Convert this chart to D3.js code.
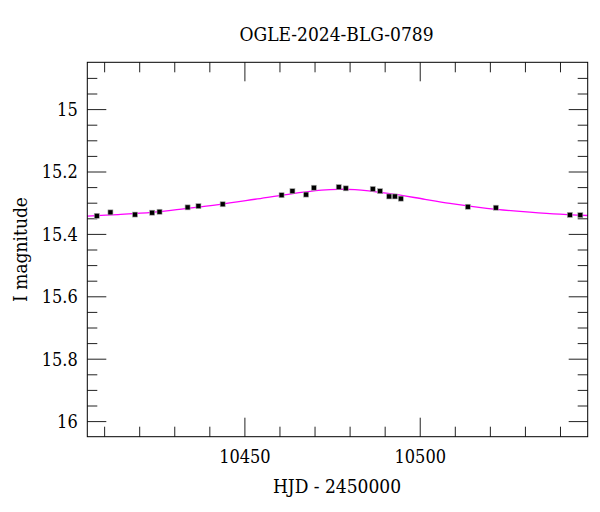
<!DOCTYPE html>
<html>
<head>
<meta charset="utf-8">
<script src="https://cdn.jsdelivr.net/npm/d3@7"></script>
<style>
  html, body { margin: 0; padding: 0; background: #fff; }
  svg { display: block; }
  text { font-family: "DejaVu Serif Condensed", "DejaVu Serif", serif; font-stretch: condensed; fill: #000; }
</style>
</head>
<body>
<svg id="chart" width="600" height="512"></svg>
<script>
// observed photometry (HJD - 2450000, I mag, error)
const hjd = [10407.9, 10411.8, 10418.8, 10423.7, 10425.8, 10433.8, 10436.9, 10443.8,
  10460.6, 10463.7, 10467.6, 10469.8, 10476.9, 10478.9, 10486.6, 10488.7,
  10491.3, 10492.9, 10494.6, 10513.7, 10521.7, 10542.8, 10545.8];
const imag = [15.342, 15.331, 15.338, 15.332, 15.329, 15.315, 15.311, 15.305,
  15.276, 15.263, 15.274, 15.252, 15.250, 15.254, 15.256, 15.263,
  15.280, 15.280, 15.287, 15.313, 15.316, 15.339, 15.340];
const ierr = [0.006, 0.006, 0.006, 0.006, 0.006, 0.006, 0.006, 0.006,
  0.006, 0.006, 0.006, 0.006, 0.006, 0.006, 0.006, 0.006,
  0.006, 0.006, 0.006, 0.006, 0.006, 0.006, 0.006];

// model curve
const modelHjd = [10405.2, 10414.0, 10423.6, 10433.1, 10442.6, 10453.0, 10462.5, 10472.0,
  10476.8, 10481.5, 10491.0, 10501.5, 10509.6, 10519.1, 10528.6, 10538.1, 10547.9];
const modelMag = [15.343, 15.338, 15.331, 15.319, 15.306, 15.289, 15.273, 15.260,
  15.257, 15.258, 15.270, 15.289, 15.304, 15.318, 15.328, 15.336, 15.341];

const xMajor = [10450, 10500];
const xMinor = [10410, 10420, 10430, 10440, 10460, 10470, 10480, 10490, 10510, 10520, 10530, 10540];
const yMajor = [15, 15.2, 15.4, 15.6, 15.8, 16];
const yMinor = [14.9, 14.95, 15.05, 15.1, 15.15, 15.25, 15.3, 15.35, 15.45, 15.5, 15.55,
  15.65, 15.7, 15.75, 15.85, 15.9, 15.95];

const title = "OGLE-2024-BLG-0789";
const xTitle = "HJD - 2450000";
const yTitle = "I magnitude";

const L = 87.3, R = 587.7, T = 62.3, B = 436.7;
const W = R - L, H = B - T;

const svg = d3.select("#chart");
const x = d3.scaleLinear().domain([10405.2, 10547.9]).range([0, W]);
const y = d3.scaleLinear().domain([14.85, 16.05]).range([0, H]);

const g = svg.append("g").attr("transform", `translate(${L},${T})`);

// ticks, all four sides, pointing inward
function tickAxis(axis, size, vals, tx, ty, fmt) {
  const a = g.append("g").attr("transform", `translate(${tx},${ty})`)
    .call(axis.tickValues(vals).tickSizeInner(size).tickSizeOuter(0).tickFormat(fmt || ""));
  a.select(".domain").remove();
  a.selectAll(".tick line").attr("stroke", "#222").attr("stroke-width", 1);
  return a;
}
const blank = () => "";
tickAxis(d3.axisBottom(x), -19, xMajor, 0, H, d3.format("d"))
  .selectAll("text").attr("font-size", 18).attr("y", 13.5).attr("dy", "0.71em");
tickAxis(d3.axisBottom(x), -10, xMinor, 0, H, blank);
tickAxis(d3.axisTop(x), -19, xMajor, 0, 0, blank);
tickAxis(d3.axisTop(x), -10, xMinor, 0, 0, blank);
tickAxis(d3.axisLeft(y), -19, yMajor, 0, 0, d => d3.format("")(+d.toFixed(1)))
  .selectAll("text").attr("font-size", 18).attr("x", -9.6).attr("dy", "0.36em");
tickAxis(d3.axisLeft(y), -10, yMinor, 0, 0, blank);
tickAxis(d3.axisRight(y), -19, yMajor, W, 0, blank);
tickAxis(d3.axisRight(y), -10, yMinor, W, 0, blank);

// model
const line = d3.line()
  .x((d, i) => x(modelHjd[i]))
  .y(d => y(d))
  .curve(d3.curveCatmullRom.alpha(0.5));
g.append("path").datum(modelMag)
  .attr("d", line)
  .attr("fill", "none")
  .attr("stroke", "#ff00ff")
  .attr("stroke-width", 1.3);

// data with error bars
const pts = hjd.map((t, i) => ({ t, m: imag[i], e: ierr[i] }));
g.append("g").selectAll("line").data(pts).join("line")
  .attr("x1", d => x(d.t)).attr("x2", d => x(d.t))
  .attr("y1", d => y(d.m - d.e)).attr("y2", d => y(d.m + d.e))
  .attr("stroke", "#000").attr("stroke-width", 1);
g.append("g").selectAll("rect").data(pts).join("rect")
  .attr("x", d => x(d.t) - 2.5).attr("y", d => y(d.m) - 2.5)
  .attr("width", 5).attr("height", 5)
  .attr("fill", "#000").attr("stroke", "#aaa").attr("stroke-width", 0.6);

// frame
g.append("rect").attr("width", W).attr("height", H)
  .attr("fill", "none").attr("stroke", "#000").attr("stroke-width", 1);

// titles
svg.append("text").attr("x", 336.5).attr("y", 41).attr("text-anchor", "middle")
  .attr("font-size", 19).text(title);
svg.append("text").attr("x", 337).attr("y", 492.7).attr("text-anchor", "middle")
  .attr("font-size", 19).text(xTitle);
svg.append("text").attr("transform", `translate(27,${T + H / 2}) rotate(-90)`)
  .attr("text-anchor", "middle").attr("font-size", 19).text(yTitle);
</script>
</body>
</html>
